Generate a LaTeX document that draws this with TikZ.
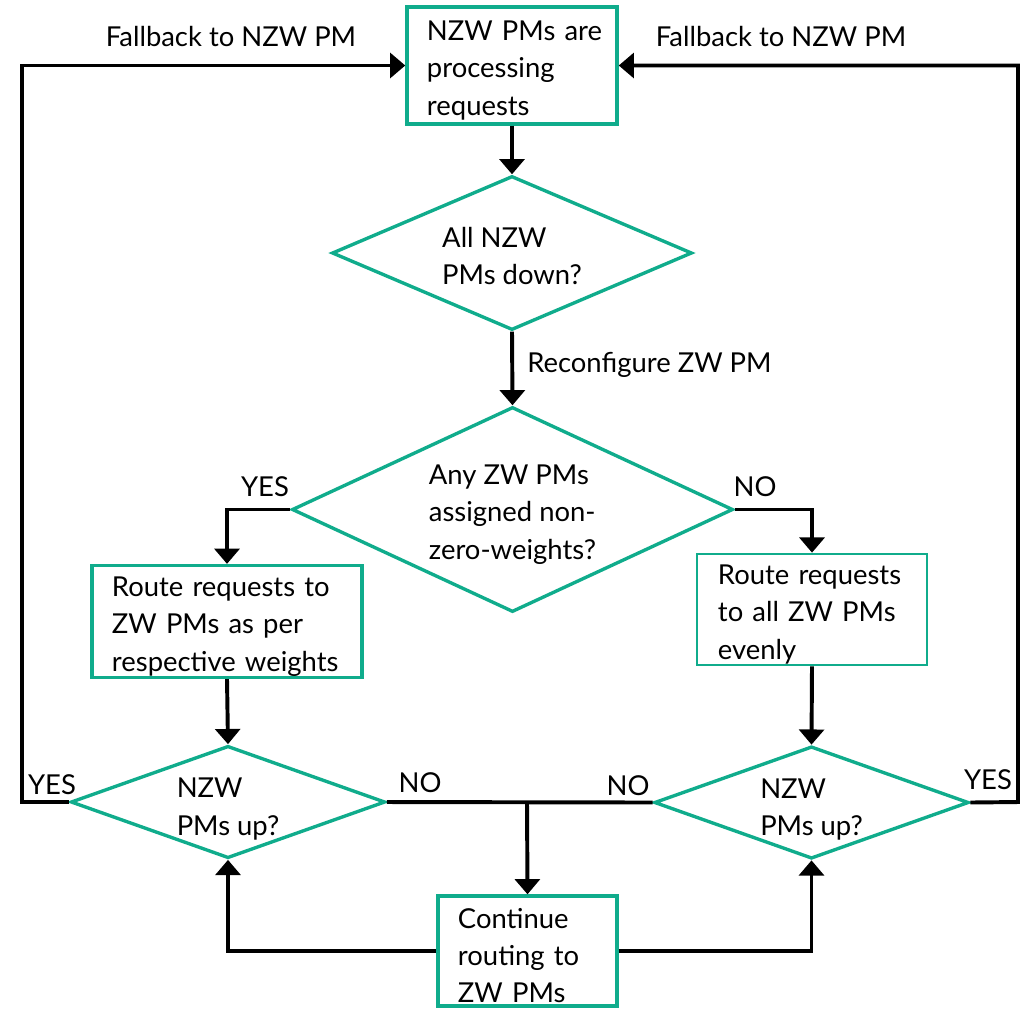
\documentclass[tikz,border=0pt]{standalone}
\usepackage{fontspec}
\setmainfont{Lato}
\usetikzlibrary{arrows.meta,shapes.geometric}
\definecolor{hpegreen}{RGB}{16,172,140}
% invisible strut that lowers a text block inside its shape
\newcommand\lowerby[1]{\rule{0pt}{#1}}
\begin{document}
\begin{tikzpicture}[x=0.025cm,y=-0.025cm,
  font=\fontsize{19.5}{26.5}\selectfont,
  procbox/.style={draw=hpegreen,line width=2.4pt,rectangle,inner xsep=0.5cm,inner ysep=1pt,align=left},
  decision/.style={draw=hpegreen,line width=2.4pt,diamond,inner sep=0pt,align=left},
  flow/.style={line width=2.8pt,-{Triangle[width=0.62cm,length=0.38cm]}},
  plain/.style={line width=2.8pt},
  lbl/.style={inner sep=0pt}]
\useasboundingbox (0,0) rectangle (1030,1009);

% process boxes
\node[procbox,minimum width=5.25cm,minimum height=2.925cm,text width=4.25cm] (start) at (512,65.5)
  {\lowerby{21pt}\mbox{NZW PMs are}\\processing\\requests};
\node[procbox,minimum width=6.75cm,minimum height=2.775cm,text width=5.75cm] (weighted) at (227,621.5)
  {\lowerby{21pt}\mbox{Route requests to}\\\mbox{ZW PMs as per}\\\mbox{respective weights}};
\node[procbox,line width=1.5pt,minimum width=5.75cm,minimum height=2.725cm,text width=4.7cm] (even) at (812,609.5)
  {\lowerby{21pt}\mbox{Route requests}\\\mbox{to all ZW PMs}\\evenly};
\node[procbox,minimum width=4.475cm,minimum height=2.75cm,text width=3.475cm] (cont) at (527.5,951)
  {\lowerby{21pt}Continue\\\mbox{routing to}\\\mbox{ZW PMs}};

% decisions
\node[decision,minimum width=9cm,minimum height=3.85cm,shape aspect=2.3] (alldown) at (512,253)
  {\lowerby{18.5pt}All NZW\\PMs down?};
\node[decision,minimum width=11.025cm,minimum height=5.125cm,shape aspect=2.1] (anyzw) at (512.5,509.5)
  {\lowerby{21pt}Any ZW PMs\\assigned non-\\zero-weights?};
\node[decision,minimum width=7.8cm,minimum height=2.8cm,shape aspect=2.8] (upL) at (228,802)
  {\lowerby{24pt}NZW\\PMs up?};
\node[decision,minimum width=7.825cm,minimum height=2.775cm,shape aspect=2.8] (upR) at (811.5,802.5)
  {\lowerby{24pt}NZW\\PMs up?};

% bend points of the loops
\coordinate (farL) at (22,802);
\coordinate (farR) at (1018,802);
\coordinate (join) at (527,802);

% connectors
\draw[flow] (start.south) -- (alldown.north);
\draw[flow] (alldown.south) -- (anyzw.north);
\draw[flow] (anyzw.west) -| (weighted.north);
\draw[flow] (anyzw.east) -| (even.north);
\draw[flow] (weighted.south) -- (upL.north);
\draw[flow] (even.south) -- (upR.north);
\draw[flow] (upL.west) -- (farL) |- (start.west);
\draw[flow] (upR.east) -- (farR) |- (start.east);
\draw[plain] (upL.east) -- (upR.west);
\draw[flow] (join) -- (cont.north);
\draw[flow] (cont.west) -| (upL.south);
\draw[flow] (cont.east) -| (upR.south);

% labels
\node[lbl,anchor=west] (reconf) at (527,365) {Reconfigure ZW PM};
\node[lbl] (fbL) at (231,37) {Fallback to NZW PM};
\node[lbl] (fbR) at (781,37) {Fallback to NZW PM};
\node[lbl] (yes1) at (265,487) {YES};
\node[lbl] (no1) at (755,487) {NO};
\node[lbl] (yesL) at (52,785) {YES};
\node[lbl] (yesR) at (988,780) {YES};
\node[lbl] (noL) at (420,783) {NO};
\node[lbl] (noR) at (628,786) {NO};
\end{tikzpicture}
\end{document}
